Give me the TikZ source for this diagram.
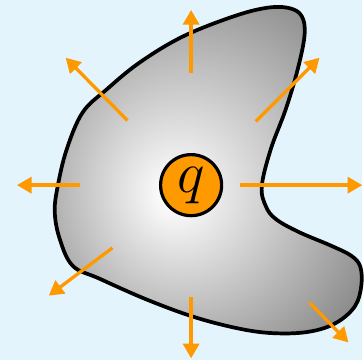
\RequirePackage{fix-cm}
\documentclass[tikz,border=0pt]{standalone}
\usetikzlibrary{arrows.meta}
\definecolor{skyback}{HTML}{E3F4FD}
\definecolor{fieldorange}{HTML}{FF9900}
\pgfdeclareradialshading{blobshade}{\pgfpoint{-6bp}{-4bp}}{color(0bp)=(white); color(3bp)=(white!97!black); color(37bp)=(black!52); color(50bp)=(black!60)}

\begin{document}
\begin{tikzpicture}[x=0.75pt, y=-0.75pt,
    field/.style={draw=fieldorange, line width=2.5pt, -{Triangle[length=11pt,width=12pt]}},
    charge/.style={circle, draw, line width=2.4pt, fill=fieldorange, minimum size=46pt, inner sep=0pt, font=\fontsize{44}{44}\selectfont}]
    % Background
    \fill[skyback] (0,0) rectangle (364,362);

    % Closed surface
    \draw[line width=2.8pt, shading=blobshade] plot[smooth cycle, tension=0.6] coordinates {
        (267,8) (290,8) (303,16) (306,35) (299,70) (287,110) (272,150) (263,187) (267,207)
        (277,220) (300,233) (333,247) (353,257) (362,268) (363,287) (357,307) (340,323)
        (317,332) (287,335) (250,332) (200,320) (150,302) (100,280) (73,267) (60,240)
        (55,213) (58,187) (67,150) (83,113) (107,90) (140,63) (183,37) (233,17)};

    % Charge
    \node[charge] (q) at (192,186) {$q$};

    % Field arrows
    \foreach \n/\sx/\sy/\ex/\ey in {up/192/73/192/10, ul/128/121/66/58, lf/80/186/17/186,
        dl/113/249/49/297, dn/192/298/192/360, dr/311/304/350/344, rt/241/186/364/186,
        ur/257/122/321/58} {
        \coordinate (\n s) at (\sx,\sy);
        \coordinate (\n e) at (\ex,\ey);
        \draw[field] (\n s) -- (\n e);
    }
\end{tikzpicture}
\end{document}
